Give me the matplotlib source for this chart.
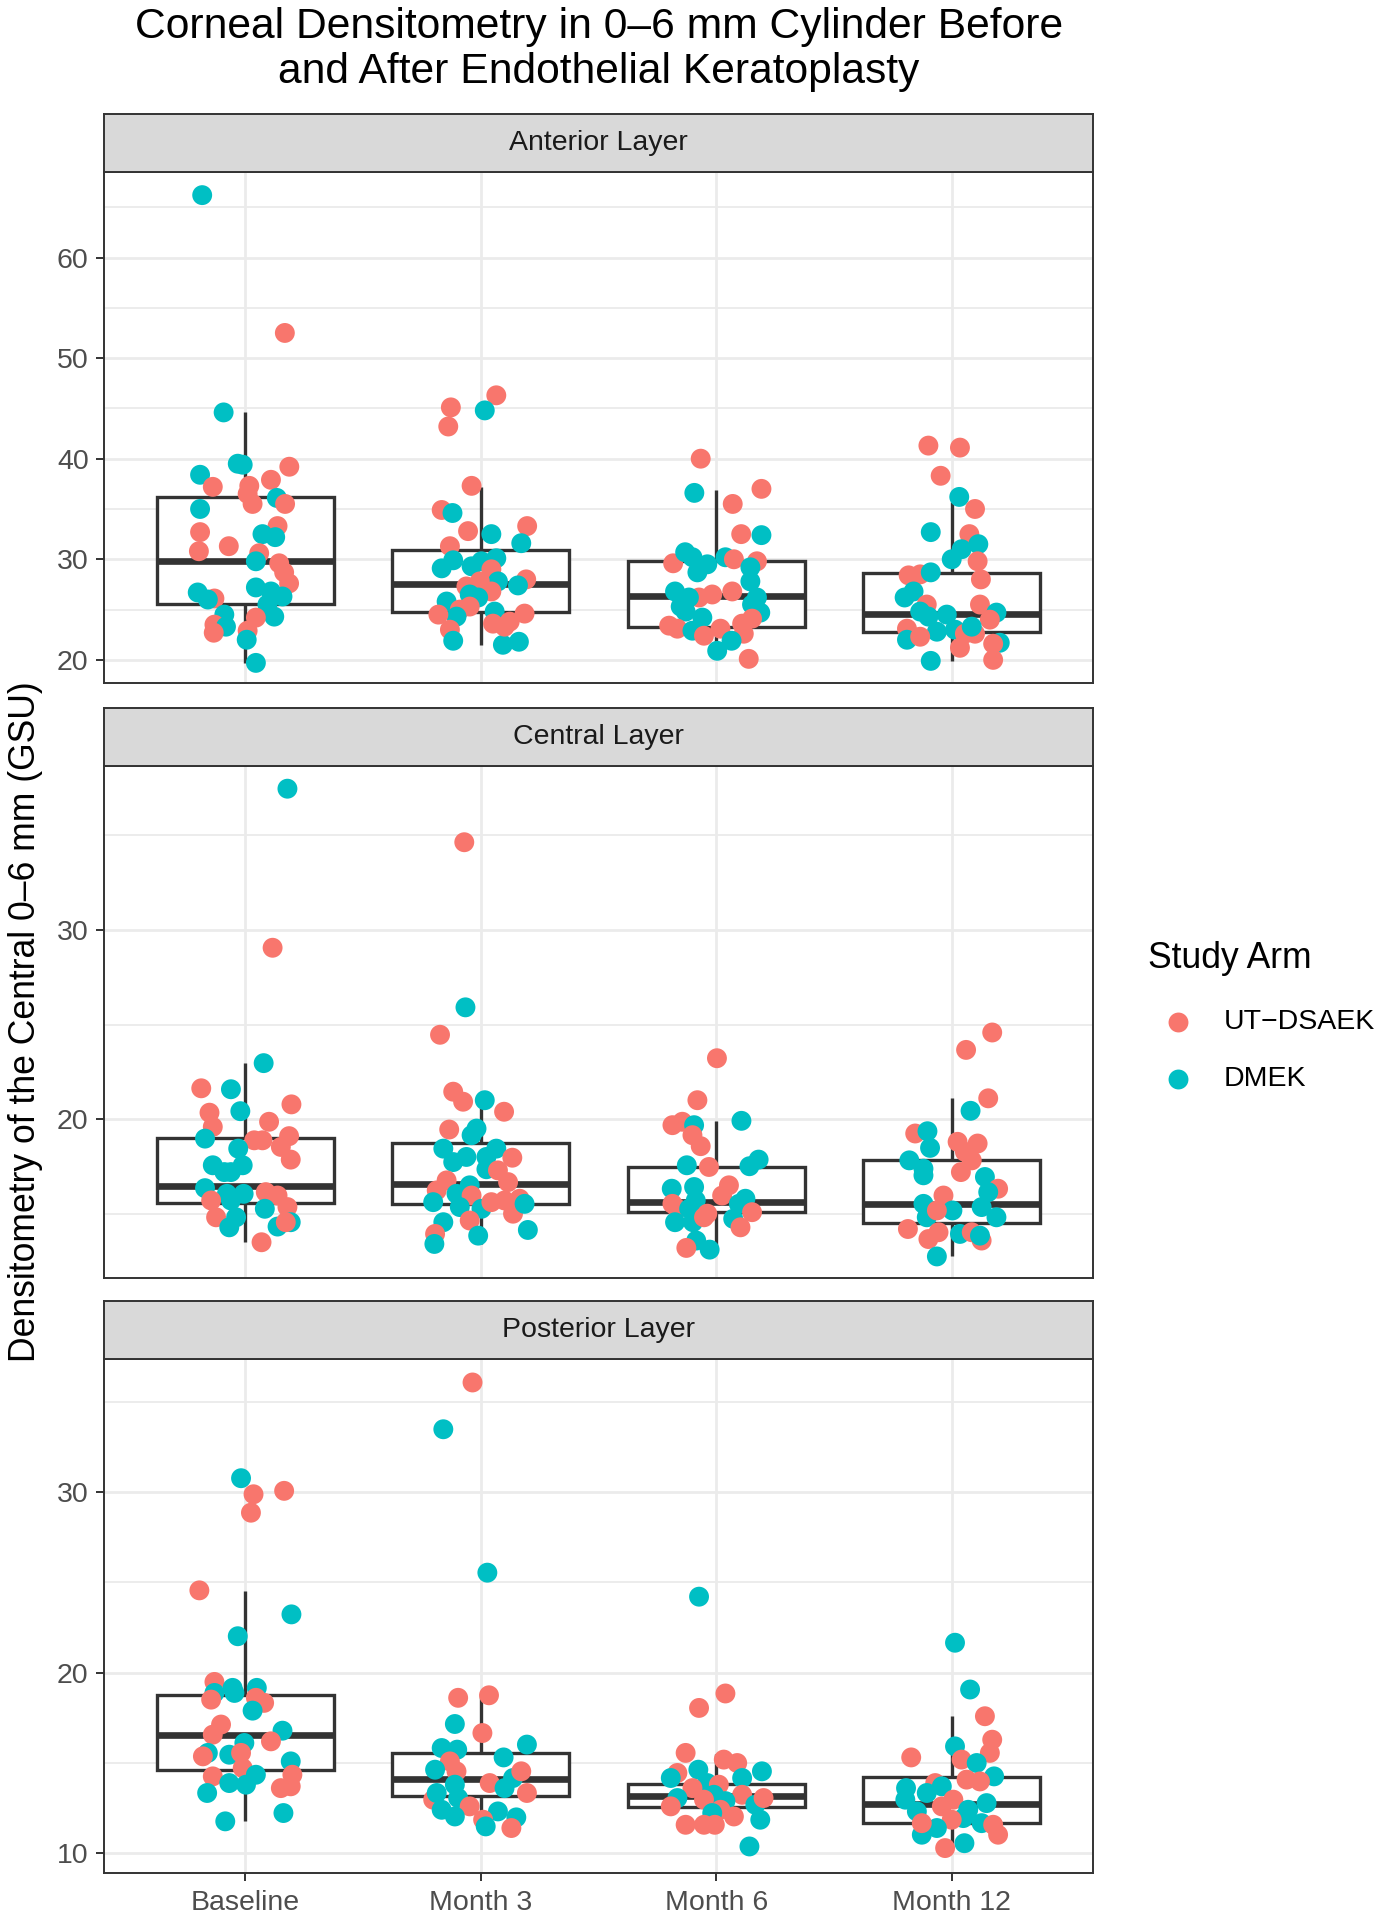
import matplotlib
matplotlib.use("Agg")
import matplotlib.pyplot as plt

plt.rcParams['font.family'] = ['Liberation Sans', 'DejaVu Sans']

# ---------------- categories ----------------
TIMEPOINTS = ["Baseline", "Month 3", "Month 6", "Month 12"]
LAYERS = ["Anterior Layer", "Central Layer", "Posterior Layer"]
ARM_LABELS = ["UT\u2212DSAEK", "DMEK"]          # R = UT-DSAEK, D = DMEK

# ---------------- Anterior layer (GSU), jitter offsets, arm codes ----------------
ANT_BL_Y = [66.2, 52.5, 44.6, 39.5, 39.4, 39.2, 38.4, 37.2, 37.9, 37.3, 36.5, 35.5, 36.1, 35.5, 35.0, 32.7, 33.3,
            32.5, 32.2, 31.3, 30.8, 30.6, 29.8, 29.6, 28.7, 27.6, 27.2, 26.7, 26.1, 26.0, 26.8, 26.3, 25.5, 24.5,
            24.3, 24.2, 23.5, 23.3, 22.7, 22.9, 22.0, 19.7]
ANT_BL_J = [-0.183, 0.168, -0.092, -0.032, -0.011, 0.187, -0.192, -0.138, 0.109, 0.017, 0.010, 0.031, 0.134, 0.169,
            -0.192, -0.192, 0.137, 0.073, 0.127, -0.070, -0.197, 0.059, 0.045, 0.144, 0.165, 0.186, 0.045, -0.202,
            -0.131, -0.159, 0.109, 0.158, 0.094, -0.089, 0.123, 0.045, -0.131, -0.082, -0.134, 0.010, 0.006, 0.045]
ANT_BL_A = "DRDDDRDRRRRRDRDRRDDRRRDRRRDDRDDDDDDRRDRRDD"

ANT_M3_Y = [46.3, 45.1, 44.8, 43.2, 37.3, 34.9, 34.6, 32.8, 33.3, 32.5, 31.3, 31.6, 29.9, 30.1, 29.1, 29.3, 29.8,
            29.0, 28.0, 27.8, 27.4, 27.3, 27.8, 26.8, 26.5, 26.2, 25.8, 25.0, 25.3, 24.3, 24.5, 24.8, 24.6, 23.6,
            23.8, 23.0, 21.9, 21.5, 21.8, 23.3]
ANT_M3_J = [0.066, -0.127, 0.017, -0.138, -0.039, -0.166, -0.120, -0.054, 0.197, 0.045, -0.131, 0.172, -0.117,
            0.066, -0.166, -0.039, 0.003, 0.045, 0.193, 0.073, 0.158, -0.061, -0.004, 0.045, -0.047, -0.011, -0.145,
            -0.089, -0.047, -0.103, -0.180, 0.059, 0.186, 0.052, 0.123, -0.131, -0.117, 0.094, 0.162, 0.101]
ANT_M3_A = "RRDRRRDRRDRDDDDDDRRDDRRRDDDRRDRDRRRRDDDR"

ANT_M6_Y = [40.0, 36.6, 37.0, 35.5, 32.5, 32.4, 29.6, 30.7, 30.2, 29.5, 28.7, 30.2, 30.0, 29.8, 29.2, 27.8, 26.8,
            26.2, 26.5, 26.8, 26.2, 25.5, 25.3, 24.8, 24.2, 24.7, 23.4, 23.1, 22.9, 22.4, 23.1, 23.6, 24.1, 22.6,
            21.9, 20.9, 20.1, 26.2]
ANT_M6_J = [-0.066, -0.093, 0.192, 0.070, 0.106, 0.192, -0.183, -0.132, -0.101, -0.038, -0.080, 0.039, 0.075,
            0.173, 0.145, 0.145, -0.175, -0.073, -0.017, 0.068, 0.173, 0.152, -0.151, -0.130, -0.059, 0.187, -0.200,
            -0.165, -0.101, -0.052, 0.018, 0.110, 0.152, 0.117, 0.065, 0.004, 0.138, -0.116]
ANT_M6_A = "RDRRRDRDDDDDRRDDDRRRDDDDDDRRDRRRRRDDRD"

ANT_M12_Y = [41.3, 41.1, 38.3, 36.2, 35.0, 32.7, 32.5, 31.5, 31.0, 30.0, 29.8, 28.0, 28.4, 28.5, 28.7, 26.8, 26.2,
             25.5, 24.8, 24.3, 24.5, 25.5, 24.7, 24.0, 23.1, 22.0, 22.8, 22.3, 23.0, 22.6, 22.6, 21.2, 21.7, 21.6,
             20.0, 19.9, 23.3]
ANT_M12_J = [-0.099, 0.035, -0.047, 0.032, 0.099, -0.089, 0.075, 0.113, 0.042, 0.000, 0.110, 0.124, -0.183, -0.134,
             -0.089, -0.162, -0.200, -0.106, -0.134, -0.099, -0.021, 0.120, 0.190, 0.162, -0.190, -0.190, -0.063,
             -0.134, 0.014, 0.056, 0.099, 0.035, 0.204, 0.176, 0.176, -0.089, 0.085]
ANT_M12_A = "RRRDRDRDDDRRRRDDDRDDDRDRRDDRDRRRDRRDD"

# ---------------- Central layer ----------------
CEN_BL_Y = [37.47, 29.06, 22.96, 21.63, 21.58, 20.78, 20.42, 20.34, 19.59, 19.86, 18.97, 19.1, 18.88, 18.88, 18.53,
            18.44, 17.86, 17.56, 17.2, 17.56, 17.2, 16.35, 16.05, 16.05, 16.14, 15.96, 15.7, 15.7, 15.35, 15.26,
            14.81, 14.81, 14.28, 14.32, 14.55, 14.55, 13.49]
CEN_BL_J = [0.179, 0.116, 0.078, -0.187, -0.061, 0.196, -0.021, -0.152, -0.138, 0.101, -0.171, 0.186, 0.038, 0.073,
            0.151, -0.030, 0.193, -0.138, -0.089, -0.011, -0.061, -0.171, -0.078, -0.007, 0.087, 0.137, -0.145,
            -0.061, 0.179, 0.083, -0.124, -0.039, -0.068, 0.137, 0.193, 0.172, 0.069]
CEN_BL_A = "DRDRDRDRRRDRRRRDRDDDDDDDRRRDRDRDDDDRR"

CEN_M3_Y = [34.64, 25.91, 24.46, 21.45, 20.92, 21.0, 20.39, 19.45, 19.5, 19.15, 18.44, 18.0, 17.73, 18.0, 18.44,
            17.96, 17.35, 17.29, 16.76, 16.67, 16.23, 16.05, 16.5, 15.96, 15.61, 15.35, 15.26, 15.61, 15.7, 15.79,
            15.0, 15.52, 14.64, 14.55, 13.93, 13.84, 14.14, 13.4]
CEN_M3_J = [-0.070, -0.065, -0.173, -0.117, -0.075, 0.017, 0.099, -0.134, -0.018, -0.039, -0.159, -0.061, -0.117,
            0.024, 0.066, 0.134, 0.024, 0.073, -0.145, 0.116, -0.187, -0.103, -0.047, -0.039, -0.202, -0.089, 0.003,
            0.045, 0.101, 0.165, 0.137, 0.186, -0.047, -0.159, -0.194, -0.011, 0.200, -0.197]
CEN_M3_A = "RDRRRDRRDDDDDDDRDRRRRDDRDDDRRRRDRDRDDD"

CEN_M6_Y = [23.22, 21.0, 19.68, 19.86, 19.68, 19.91, 19.15, 18.57, 17.56, 17.47, 17.86, 17.51, 16.32, 16.41, 16.5,
            15.96, 15.7, 15.79, 15.52, 15.26, 15.26, 15.0, 15.52, 15.08, 14.55, 14.55, 14.73, 14.28, 14.81, 13.58,
            13.19, 13.1]
CEN_M6_J = [0.003, -0.080, -0.186, -0.144, -0.094, 0.107, -0.101, -0.066, -0.125, -0.031, 0.180, 0.141, -0.189,
            -0.094, 0.054, 0.025, -0.087, 0.124, -0.186, -0.165, -0.115, -0.038, 0.096, 0.152, -0.175, -0.099, 0.072,
            0.103, -0.052, -0.085, -0.127, -0.028]
CEN_M6_A = "RRRRDDRRDRDDDDRRDDRRDRDRDDDRRDRD"

CEN_M12_Y = [24.58, 23.66, 21.1, 20.44, 19.24, 19.36, 18.48, 18.8, 18.71, 18.27, 17.82, 17.82, 17.38, 17.03, 17.2,
             16.94, 16.32, 16.14, 15.96, 15.52, 15.17, 15.35, 14.81, 14.81, 15.17, 14.19, 13.66, 14.02, 13.93, 14.02,
             13.58, 13.84, 12.74]
CEN_M12_J = [0.172, 0.061, 0.155, 0.080, -0.155, -0.103, -0.092, 0.025, 0.110, 0.056, 0.085, -0.180, -0.120, -0.120,
             0.039, 0.141, 0.197, 0.155, -0.035, -0.120, 0.003, 0.127, 0.190, -0.106, -0.063, -0.186, -0.099, -0.056,
             0.035, 0.085, 0.127, 0.120, -0.063]
CEN_M12_A = "RRRDRDDRRRRDDDRDRDRDDDDDRRRRDRRDD"

# ---------------- Posterior layer ----------------
POS_BL_Y = [30.76, 29.87, 30.06, 28.85, 24.55, 23.22, 22.01, 19.48, 18.87, 19.15, 18.87, 19.15, 18.5, 18.6, 18.32,
            17.89, 17.12, 16.56, 16.78, 16.19, 16.1, 15.55, 15.45, 15.36, 15.55, 14.71, 15.08, 14.25, 14.34, 14.34,
            13.88, 13.79, 13.6, 13.7, 13.33, 12.22, 11.76]
POS_BL_J = [-0.018, 0.035, 0.165, 0.024, -0.195, 0.196, -0.032, -0.131, -0.131, -0.054, -0.046, 0.049, -0.145, 0.045,
            0.080, 0.031, -0.103, -0.138, 0.158, 0.109, -0.004, -0.159, -0.068, -0.180, -0.018, -0.011, 0.193, -0.138,
            0.045, 0.200, -0.068, 0.003, 0.151, 0.193, -0.162, 0.162, -0.085]
POS_BL_A = "DRRRRDDRDDDDRRRDRRDRDDDRRRDRDRDDRRDDD"

POS_M3_Y = [36.06, 33.47, 25.53, 18.6, 18.74, 17.15, 16.65, 16.01, 15.82, 15.73, 15.3, 15.08, 14.62, 14.53, 14.16,
            14.53, 13.88, 13.79, 13.6, 13.33, 12.96, 13.33, 13.05, 12.59, 12.4, 12.03, 12.31, 11.98, 11.85, 11.48,
            11.39]
POS_M3_J = [-0.035, -0.159, 0.028, -0.096, 0.035, -0.110, 0.007, 0.196, -0.166, -0.100, 0.097, -0.131, -0.194,
            -0.103, 0.137, 0.172, 0.038, -0.110, 0.101, 0.196, -0.202, -0.187, -0.096, -0.047, -0.166, -0.110, 0.073,
            0.151, 0.010, 0.021, 0.130]
POS_M3_A = "RDDRRDRDDDDRDRDRRDDRRDDRDDDDRDR"

POS_M6_Y = [24.2, 18.84, 18.04, 15.55, 15.18, 14.99, 14.53, 14.62, 14.44, 14.16, 14.16, 13.88, 13.6, 13.79, 13.05,
            13.23, 12.96, 13.23, 12.88, 12.68, 13.05, 12.59, 12.4, 12.22, 12.03, 11.85, 11.57, 11.57, 11.57, 10.37]
POS_M6_J = [-0.073, 0.039, -0.073, -0.130, 0.032, 0.089, 0.194, -0.076, -0.165, -0.193, 0.110, -0.038, -0.101, 0.011,
            -0.165, -0.010, -0.052, 0.110, 0.039, 0.166, 0.201, -0.193, 0.018, -0.017, 0.075, 0.187, -0.130, -0.052,
            -0.006, 0.141]
POS_M6_A = "DRRRRRDDRDDDRRDDRRDDRRRDRDRRRD"

POS_M12_Y = [21.65, 19.06, 17.58, 16.28, 15.55, 15.91, 15.3, 15.18, 14.99, 14.25, 14.07, 13.97, 13.88, 13.7, 13.6,
             13.33, 12.96, 12.96, 12.77, 12.31, 12.59, 12.4, 11.94, 11.85, 11.66, 11.57, 11.02, 11.02, 11.39, 10.55,
             10.28, 11.66]
POS_M12_J = [0.014, 0.078, 0.141, 0.172, 0.162, 0.014, -0.172, 0.042, 0.106, 0.180, 0.063, 0.120, -0.070, -0.042,
             -0.194, -0.106, 0.007, -0.197, 0.148, -0.148, -0.042, 0.070, 0.049, 0.000, 0.127, 0.176, 0.197, -0.127,
             -0.063, 0.054, -0.028, -0.127]
POS_M12_A = "DDRRRDRRDDRRRDDDRDDDRDDRDRRDDDRR"

# ---------------- box statistics: (q1, median, q3, lower whisker, upper whisker) -------------
ANT_BOX = [(25.6, 29.8, 36.2, 19.7, 44.6), (24.8, 27.5, 30.9, 21.5, 37.2),
           (23.3, 26.3, 29.8, 20.1, 36.9), (22.8, 24.6, 28.6, 19.9, 35.7)]
CEN_BOX = [(15.56, 16.44, 19.0, 13.49, 22.96), (15.52, 16.55, 18.76, 13.4, 21.0),
           (15.08, 15.61, 17.47, 13.1, 19.9), (14.51, 15.52, 17.82, 12.74, 21.1)]
POS_BOX = [(14.62, 16.53, 18.78, 11.76, 24.51), (13.18, 14.12, 15.55, 11.39, 18.69),
           (12.53, 13.14, 13.84, 11.57, 15.51), (11.66, 12.74, 14.2, 10.28, 17.58)]

# y-axis ranges and ticks per panel
ANT_YLIM, ANT_MAJOR, ANT_MINOR = (17.7, 68.5), [20, 30, 40, 50, 60], [25, 35, 45, 55, 65]
CEN_YLIM, CEN_MAJOR, CEN_MINOR = (11.6, 38.67), [20, 30], [15, 25, 35]
POS_YLIM, POS_MAJOR, POS_MINOR = (8.9, 37.36), [10, 20, 30], [15, 25, 35]

# ---------------- styling ----------------
RED, TEAL = "#F8766D", "#00BFC4"
COL = {"R": RED, "D": TEAL}
DARK = "#333333"
GRID = "#EBEBEB"
BASE = 25.6
SMALL = 20.5
TITLE = 30.7
PT_S = 205

W, H = 1387, 1920
fig = plt.figure(figsize=(W / 100, H / 100), dpi=100)
fig.patch.set_facecolor("white")


def fx(px):
    return px / W


def fy(py):
    return 1 - py / H


PL, PR = 104, 1093
panels = [
    (LAYERS[0], [(ANT_BL_Y, ANT_BL_J, ANT_BL_A), (ANT_M3_Y, ANT_M3_J, ANT_M3_A),
                 (ANT_M6_Y, ANT_M6_J, ANT_M6_A), (ANT_M12_Y, ANT_M12_J, ANT_M12_A)],
     ANT_BOX, ANT_YLIM, ANT_MAJOR, ANT_MINOR, 114, 172, 683),
    (LAYERS[1], [(CEN_BL_Y, CEN_BL_J, CEN_BL_A), (CEN_M3_Y, CEN_M3_J, CEN_M3_A),
                 (CEN_M6_Y, CEN_M6_J, CEN_M6_A), (CEN_M12_Y, CEN_M12_J, CEN_M12_A)],
     CEN_BOX, CEN_YLIM, CEN_MAJOR, CEN_MINOR, 708, 766, 1278),
    (LAYERS[2], [(POS_BL_Y, POS_BL_J, POS_BL_A), (POS_M3_Y, POS_M3_J, POS_M3_A),
                 (POS_M6_Y, POS_M6_J, POS_M6_A), (POS_M12_Y, POS_M12_J, POS_M12_A)],
     POS_BOX, POS_YLIM, POS_MAJOR, POS_MINOR, 1301, 1359, 1873),
]

positions = list(range(1, len(TIMEPOINTS) + 1))

for k, (name, groups, boxes, ylim, major, minor, stop, top, bot) in enumerate(panels):
    ax = fig.add_axes([fx(PL), fy(bot), (PR - PL) / W, (bot - top) / H])
    ax.set_facecolor("white")
    ax.set_xlim(0.4, 4.6)
    ax.set_ylim(*ylim)
    ax.set_xticks(positions)
    ax.set_yticks(major)
    ax.set_yticks(minor, minor=True)
    ax.grid(which="major", color=GRID, lw=2.0)
    ax.grid(which="minor", axis="y", color=GRID, lw=1.3)
    ax.set_axisbelow(True)

    stats = [dict(q1=b[0], med=b[1], q3=b[2], whislo=b[3], whishi=b[4], fliers=[]) for b in boxes]
    ax.bxp(stats, positions=positions, widths=0.75, showfliers=False, showcaps=False,
           patch_artist=True, manage_ticks=False,
           boxprops=dict(facecolor="white", edgecolor=DARK, linewidth=2.4),
           medianprops=dict(color=DARK, linewidth=4.8, solid_capstyle="butt"),
           whiskerprops=dict(color=DARK, linewidth=2.4, solid_capstyle="butt"))

    for i, (ys, js, arms) in enumerate(groups):
        xs = [positions[i] + j for j in js]
        cols = [COL[a] for a in arms]
        ax.scatter(xs, ys, s=PT_S, c=cols, linewidths=0, zorder=3)

    for sp in ax.spines.values():
        sp.set_color(DARK)
        sp.set_linewidth(1.4)
        sp.set_zorder(5)
    ax.tick_params(which="minor", length=0)
    ax.tick_params(which="major", length=6, width=1.4, color=DARK, labelcolor="#4D4D4D",
                   labelsize=SMALL, pad=5)
    ax.set_yticklabels([str(v) for v in major])
    if k < len(panels) - 1:
        ax.tick_params(axis="x", bottom=False, labelbottom=False)
    else:
        ax.set_xticklabels(TIMEPOINTS)
        ax.tick_params(axis="x", pad=6)

    sax = fig.add_axes([fx(PL), fy(top), (PR - PL) / W, (top - stop) / H])
    sax.set_facecolor("#D9D9D9")
    sax.set_xticks([])
    sax.set_yticks([])
    for sp in sax.spines.values():
        sp.set_color(DARK)
        sp.set_linewidth(1.4)
    sax.text(0.5, 0.5, name, ha="center", va="center", fontsize=SMALL, color="#1A1A1A",
             transform=sax.transAxes)

# title
fig.text(fx(599), fy(27), "Corneal Densitometry in 0\u20136 mm Cylinder Before", ha="center", va="center",
         fontsize=TITLE, color="black")
fig.text(fx(599), fy(72), "and After Endothelial Keratoplasty", ha="center", va="center",
         fontsize=TITLE, color="black")

# y label
fig.text(fx(26), fy(1022), "Densitometry of the Central 0\u20136 mm (GSU)", rotation=90, ha="center",
         va="center", fontsize=BASE, color="black")

# legend
lax = fig.add_axes([0, 0, 1, 1])
lax.set_xlim(0, W)
lax.set_ylim(H, 0)
lax.axis("off")
lax.patch.set_alpha(0)
fig.text(fx(1148), fy(959), "Study Arm", ha="left", va="center", fontsize=BASE, color="black")
for j, (lab, c) in enumerate(zip(ARM_LABELS, [RED, TEAL])):
    yk = 1022 + 57 * j
    lax.scatter([1178], [yk], s=PT_S, c=[c], linewidths=0)
    fig.text(fx(1224), fy(yk), lab, ha="left", va="center", fontsize=SMALL, color="black")

fig.savefig("out.png", dpi=100, facecolor="white")
